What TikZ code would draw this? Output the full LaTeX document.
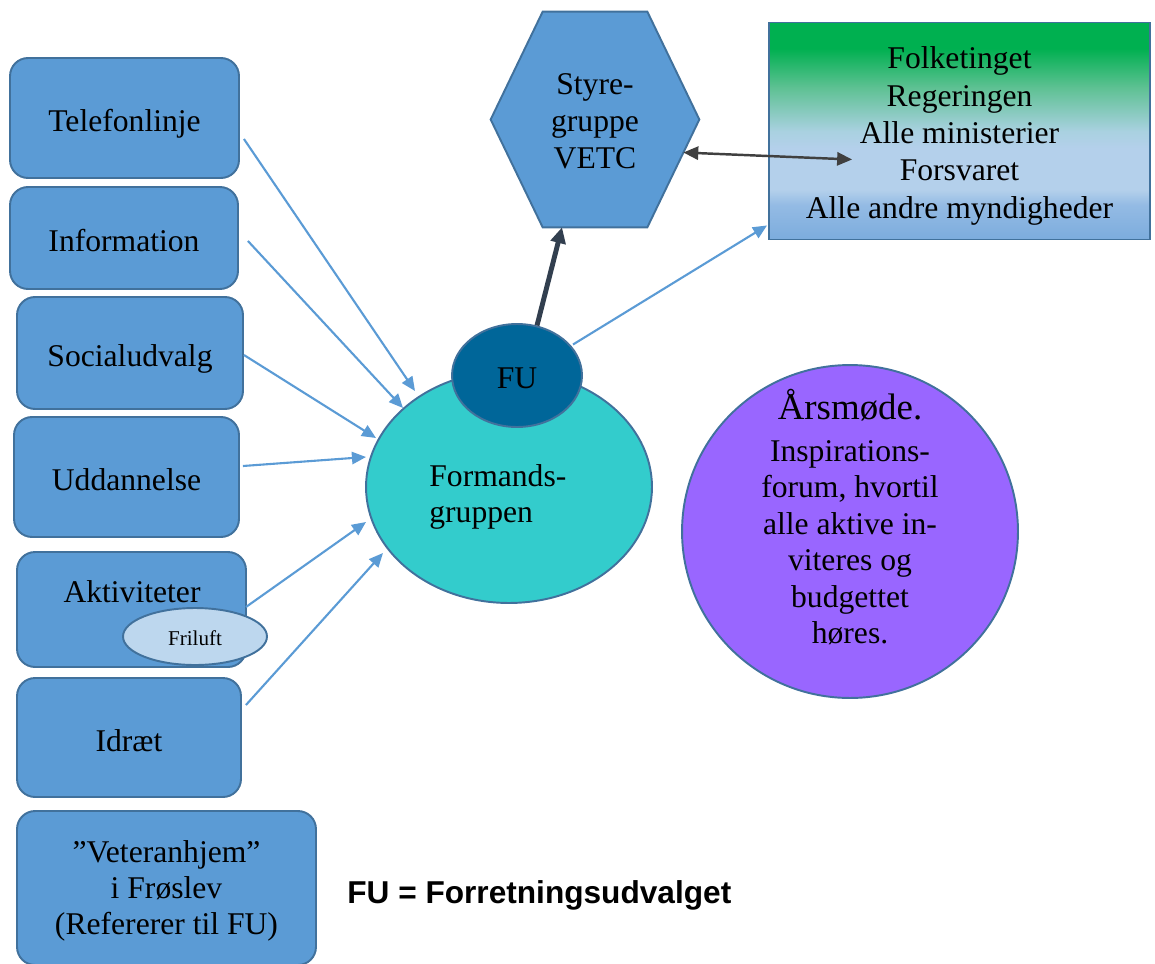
\documentclass[tikz,border=0pt]{standalone}
\usepackage{fontspec}
\setmainfont{Liberation Serif}
\newfontfamily\sansfam{Liberation Sans}
\usetikzlibrary{shapes.geometric,arrows.meta,calc}
\definecolor{boxblue}{HTML}{5B9BD5}
\definecolor{bordc}{HTML}{41719C}
\definecolor{tealc}{HTML}{33CCCC}
\definecolor{fuc}{HTML}{006699}
\definecolor{frilc}{HTML}{BDD7EE}
\definecolor{purc}{HTML}{9966FF}
\definecolor{darkarr}{HTML}{323F4F}
\definecolor{grayarr}{HTML}{404040}
\definecolor{gbA}{HTML}{7CACDD}
\definecolor{gbB}{HTML}{94BBE4}
\definecolor{gbC}{HTML}{B4D0EB}
\definecolor{gbD}{HTML}{A9D1E0}
\definecolor{gbE}{HTML}{5EC193}
\definecolor{gbF}{HTML}{00B050}
\pgfdeclareverticalshading{gbshade}{100bp}{color(0bp)=(gbA); color(25bp)=(gbA); color(33bp)=(gbB); color(36.5bp)=(gbC); color(46bp)=(gbC); color(50bp)=(gbD); color(60bp)=(gbE); color(69bp)=(gbF); color(75bp)=(gbF); color(100bp)=(gbF)}
\begin{document}
\begin{tikzpicture}[x=0.02cm,y=-0.02cm,
  txt/.style={font=\fontsize{18}{21}\selectfont, align=center, inner sep=0pt},
  rbox/.style={draw=bordc, fill=boxblue, line width=1.1pt, rounded corners=0.36cm, inner sep=0pt, font=\fontsize{18}{20.5}\selectfont, align=center},
  sbox/.style={rbox, text height=17.5pt, text depth=2pt},
  ell/.style={ellipse, draw=bordc, line width=1.1pt, inner sep=0pt},
  barrow/.style={draw=boxblue, line width=1.2pt, -{Triangle[length=8pt,width=7pt]}},
  thickarrow/.style={draw=darkarr, line width=2.8pt, -{Triangle[length=9pt,width=8.5pt]}},
  dblarrow/.style={draw=grayarr, line width=1.4pt, {Triangle[length=8.5pt,width=7.5pt]}-{Triangle[length=8.5pt,width=7.5pt]}}
]
\useasboundingbox (0,0) rectangle (1155,963);

% left boxes
\node[sbox, minimum width=4.58cm, minimum height=2.40cm] (tele) at (124.5,118) {Telefonlinje};
\node[sbox, minimum width=4.56cm, minimum height=2.04cm] (info) at (124,238) {Information};
\node[sbox, minimum width=4.52cm, minimum height=2.24cm] (soc) at (130,353) {Socialudvalg};
\node[sbox, minimum width=4.50cm, minimum height=2.40cm] (udd) at (126.5,477) {Uddannelse};
\node[rbox, minimum width=4.58cm, minimum height=2.30cm] (akt) at (131.5,609.5) {};
\node[txt, text height=14.5pt, text depth=2pt] (aktt) at (132,591.5) {Aktiviteter};
\node[sbox, minimum width=4.48cm, minimum height=2.38cm] (idr) at (129,737.5) {Idræt};
\node[rbox, minimum width=5.98cm, minimum height=3.08cm] (vet) at (166.5,888) {};
\node[txt, font=\fontsize{18}{20.4}\selectfont] (vett) at (166.5,891) {”Veteranhjem”\\i Frøslev\\(Refererer til FU)};

% Formandsgruppen and FU
\node[ell, fill=tealc, minimum width=5.72cm, minimum height=4.64cm] (form) at (509,487) {};
\node[txt, align=left, anchor=west, font=\fontsize{18}{20}\selectfont] (formt) at (429,497) {Formands-\\gruppen};
\node[ell, fill=fuc, minimum width=2.60cm, minimum height=2.06cm] (fu) at (517,375.5) {};
\node[txt] (fut) at (517,378) {FU};

% Hexagon
\path (595,119.5) node[minimum width=4.16cm, minimum height=4.30cm, inner sep=0pt] (hex) {};
\filldraw[draw=bordc, fill=boxblue, line width=1.1pt] (hex.west) -- ($(hex.north west)+(52,0)$) -- ($(hex.north east)+(-52,0)$) -- (hex.east) -- ($(hex.south east)+(-52,0)$) -- ($(hex.south west)+(52,0)$) -- cycle;
\node[txt] (hext) at (595,121) {Styre-\\gruppe\\VETC};

% Green box
\node[draw=bordc, line width=1.1pt, shading=gbshade, minimum width=7.62cm, minimum height=4.34cm, inner sep=0pt] (gov) at (959.5,131) {};
\node[txt, font=\fontsize{18}{21.3}\selectfont] (govt) at (959.5,136) {Folketinget\\Regeringen\\Alle ministerier\\Forsvaret\\Alle andre myndigheder};

% Purple ellipse
\node[ell, fill=purc, minimum width=6.72cm, minimum height=6.66cm] (ars) at (850,531.5) {};
\node[txt, font=\fontsize{18}{20.8}\selectfont] (arst) at (850,517) {{\fontsize{21}{22}\selectfont Årsmøde.}\\[3pt]Inspirations-\\forum, hvortil\\alle aktive in-\\viteres og\\budgettet\\høres.};

% FU legend
\node[anchor=west, inner sep=0pt, font=\sansfam\bfseries\fontsize{18}{21}\selectfont] (legend) at (347,895) {FU = Forretningsudvalget};

% arrows
\draw[barrow] ([shift={(4,21)}]tele.east) -- ([shift={(-94,-96)}]form.center);
\draw[barrow] ([shift={(9,3)}]info.east) -- ([shift={(-106,-79)}]form.center);
\draw[barrow] ([shift={(0,2)}]soc.east) -- ([shift={(-133,-49)}]form.center);
\draw[barrow] ([shift={(3,-11)}]udd.east) -- ([shift={(-143,-30)}]form.center);
\draw[barrow] ([shift={(-1,-2.5)}]akt.east) -- ([shift={(-143,35)}]form.center);
\draw[barrow] ([shift={(4,-32.5)}]idr.east) -- ([shift={(-126,66)}]form.center);
\draw[barrow] ([shift={(56,-31)}]fu.center) -- ([shift={(-1,-15)}]gov.south west);
\draw[thickarrow] ([shift={(20,-50)}]fu.center) -- ([shift={(-33,0)}]hex.south);
\draw[dblarrow] ([shift={(-16,33)}]hex.east) -- ([shift={(84,28.5)}]gov.west);

% Friluft on top
\node[ell, fill=frilc, minimum width=2.88cm, minimum height=1.14cm] (fril) at (195,636.5) {};
\node[txt, font=\fontsize{12}{14}\selectfont] (frilt) at (195,638) {Friluft};
\end{tikzpicture}
\end{document}
